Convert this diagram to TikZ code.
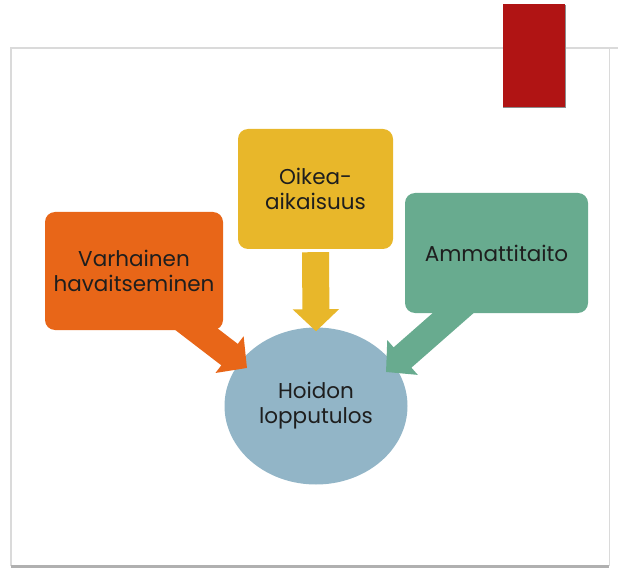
\documentclass[tikz,border=0pt]{standalone}
\usepackage{fontspec}
\setmainfont{Poppins}
\usetikzlibrary{arrows.meta,shapes.geometric,backgrounds}

\begin{document}
\begin{tikzpicture}[x=1pt,y=-1pt]
    % set up slide palette
    \definecolor{slOrange}{RGB}{232,102,24}
    \definecolor{slYellow}{RGB}{232,183,42}
    \definecolor{slGreen}{RGB}{104,171,143}
    \definecolor{slBlue}{RGB}{146,181,199}
    \definecolor{slRed}{RGB}{176,20,20}
    \definecolor{slText}{RGB}{30,30,30}
    \definecolor{slFrame}{RGB}{218,218,218}
    \definecolor{slShadow}{RGB}{176,176,176}
    \tikzstyle{every node}=[font=\fontsize{21.5}{25}\selectfont, text=slText, align=center]
    \tikzstyle{factor}=[rounded corners=10pt, inner sep=0pt, minimum height=120pt]
    \tikzstyle{bigarrow}=[line width=27pt, -{Triangle[width=45pt,length=22pt]}]
    \useasboundingbox (0,0) rectangle (618,569);

    % slide frame and corner tab
    \draw[slFrame, line width=1.5pt] (11,566) -- (11,48) -- (618,48);
    \draw[slFrame, line width=1pt] (609,48) -- (609,566);
    \draw[slShadow, line width=3pt] (11,566.5) -- (609,566.5);
    \fill[black!45] (503,5) rectangle (565.5,108);
    \fill[slRed] (503,4) rectangle (565,107);

    % factors
    \node[factor, fill=slOrange, minimum width=178pt, minimum height=118pt] (early) at (134,271) {Varhainen\\havaitseminen};
    \node[factor, fill=slYellow, minimum width=155pt] (late) at (315.5,189) {Oikea-\\aikaisuus};
    \node[factor, fill=slGreen, minimum width=183pt] (skill) at (496.5,253) {Ammattitaito};

    \begin{pgfonlayer}{background}
    % outcome in the middle
    \node[ellipse, fill=slBlue, minimum width=183pt, minimum height=157pt, inner sep=0pt] (hoito) at (316,406) {Hoidon\\lopputulos};

    % arrow ends
    \coordinate (earlyFoot) at (174,312);
    \coordinate (earlyTip) at (247,368);
    \coordinate (skillFoot) at (476,293);
    \coordinate (skillTip) at (386,372);

    % block arrows into the outcome
    \draw[bigarrow, slYellow, shorten <=3pt, shorten >=-4pt] (late.south) -- (hoito.north);
    \draw[bigarrow, slOrange] (earlyFoot) -- (earlyTip);
    \draw[bigarrow, slGreen] (skillFoot) -- (skillTip);
    \end{pgfonlayer}

\end{tikzpicture}
\end{document}
